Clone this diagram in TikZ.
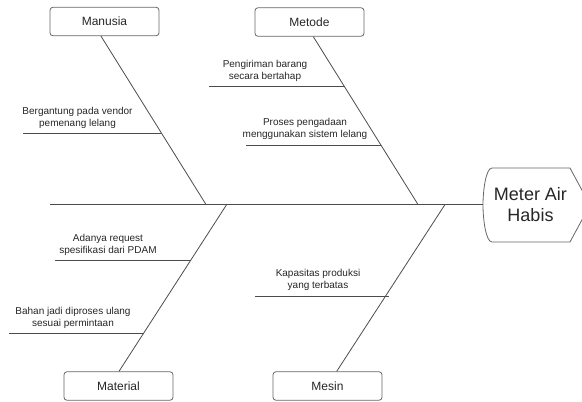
\documentclass[tikz,border=0pt]{standalone}
\usepackage{fontspec}
\setmainfont{Liberation Sans}
\usetikzlibrary{calc}
\begin{document}
\begin{tikzpicture}[x=1pt,y=-1pt,
  bone/.style={draw=black!70, line width=0.8pt},
  catbox/.style={draw=black!60, line width=0.8pt, rounded corners=3pt, minimum width=109pt, minimum height=28.5pt, inner sep=0pt, font=\fontsize{12}{14}\selectfont, text=black!85},
  cause/.style={anchor=south, align=center, inner sep=0pt, font=\fontsize{10}{12}\selectfont, text=black!85}]
\useasboundingbox (0,0) rectangle (582,402);
% category boxes
\node[catbox] (manusia) at (104.5,21.5) {Manusia};
\node[catbox] (metode) at (309.5,22) {Metode};
\node[catbox] (material) at (118.5,386) {Material};
\node[catbox] (mesin) at (327.5,386) {Mesin};
% head
\draw[draw=black!60, line width=0.8pt] (570,168) -- (492,168) .. controls (486,168) and (483,190) .. (483,205) .. controls (483,220) and (486,242) .. (492,242) -- (570,242) -- (590,205) -- cycle;
\node[font=\fontsize{18}{21}\selectfont, align=center, inner sep=0pt, text=black!85] (head) at (530.5,205) {Meter Air\\Habis};
\coordinate (headw) at (483,204.5);
\coordinate (tail) at (50,204.5);
% spine
\draw[bone] (tail) -- (headw);
% bone anchors
\coordinate (jm) at (206,204.5);
\coordinate (jt) at (418,204.5);
\coordinate (ja) at (226.7,204.5);
\coordinate (je) at (445,204.5);
\coordinate (sm) at ($(manusia.south)+(-3.5,0)$);
\coordinate (st) at ($(metode.south)+(3.8,0)$);
\coordinate (sa) at ($(material.north)+(0.5,0)$);
\coordinate (se) at ($(mesin.north)+(9.2,0)$);
\draw[bone] (sm) -- (jm);
\draw[bone] (st) -- (jt);
\draw[bone] (sa) -- (ja);
\draw[bone] (se) -- (je);
% sub-bones
\coordinate (m1a) at (23,133.5);   \coordinate (m1b) at (161.2,133.5);
\coordinate (t1a) at (209,86.7);   \coordinate (t1b) at (344.5,86.7);
\coordinate (t2a) at (246,145);    \coordinate (t2b) at (380.8,145);
\coordinate (a1a) at (55,260.7);   \coordinate (a1b) at (190.6,260.7);
\coordinate (a2a) at (9,333.3);    \coordinate (a2b) at (143.7,333.3);
\coordinate (e1a) at (255,296.2);  \coordinate (e1b) at (389,296.2);
\draw[bone] (m1a) -- (m1b);
\draw[bone] (t1a) -- (t1b);
\draw[bone] (t2a) -- (t2b);
\draw[bone] (a1a) -- (a1b);
\draw[bone] (a2a) -- (a2b);
\draw[bone] (e1a) -- (e1b);
% cause labels
\node[cause] (c1) at (77.5,130) {Bergantung pada vendor\\pemenang lelang\strut};
\node[cause] (c2) at (265,83.2) {Pengiriman barang\\secara bertahap\strut};
\node[cause] (c3) at (305,141.5) {Proses pengadaan\\menggunakan sistem lelang\strut};
\node[cause] (c4) at (108,257.2) {Adanya request\\spesifikasi dari PDAM\strut};
\node[cause] (c5) at (73,329.8) {Bahan jadi diproses ulang\\sesuai permintaan\strut};
\node[cause] (c6) at (318,292.7) {Kapasitas produksi\\yang terbatas\strut};
\end{tikzpicture}
\end{document}
